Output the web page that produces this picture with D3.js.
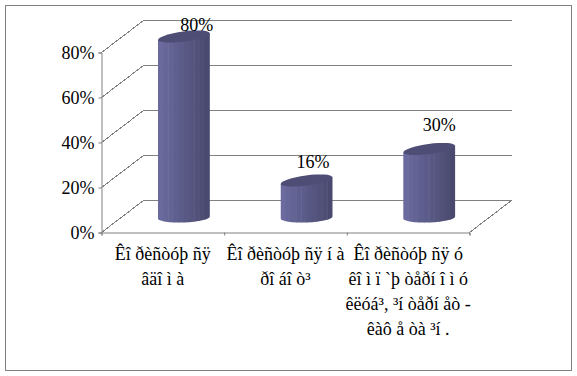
<!DOCTYPE html>
<html>
<head>
<meta charset="utf-8">
<script src="https://cdn.jsdelivr.net/npm/d3@7"></script>
<style>
  html, body { margin: 0; padding: 0; background: #fff; }
  text { font-family: "Liberation Serif", serif; fill: #000; }
</style>
</head>
<body>
<div id="chart"></div>
<script>
// labels are kept exactly as they show in the picture (broken encoding included)
const categories = [
    ["Êî ðèñòóþ ñÿ", "âäî ì à"],
    ["Êî ðèñòóþ ñÿ í à", "ðî áî ò³"],
    ["Êî ðèñòóþ ñÿ ó", "êî ì ï `þ òåðí î ì ó", "êëóá³, ³í òåðí åò -", "êàô å òà ³í ."]
];
const values = [0.8, 0.16, 0.3];
const valueTicks = [0, 0.2, 0.4, 0.6, 0.8];

const width = 577;
const height = 376;

// 3d box of the chart: front floor edge + offset to the back wall
const plotLeft = 101.5, plotRight = 469.5, plotBottom = 232.5, plotTop = 52.5;
const depthX = 42, depthY = -32;
const barWidth = 52;

// the value labels were dragged by hand in the original
const labelNudge = [[13, -6], [6.5, -13], [10, -18]];

const svg = d3.select("#chart")
    .append("svg")
    .attr("width", width)
    .attr("height", height)
    .style("display", "block");

svg.append("rect")
    .attr("x", 5.5).attr("y", 5.5)
    .attr("width", 566).attr("height", 365)
    .attr("fill", "#fff")
    .attr("stroke", "#808080");

const y = d3.scaleLinear().domain([0, 0.8]).range([plotBottom, plotTop]);
const x = d3.scaleBand().domain(d3.range(categories.length)).range([plotLeft, plotRight]);
const xEdges = d3.scaleLinear().domain([0, categories.length]).range([plotLeft, plotRight]);
const pct = d3.format(".0%");

// Gridlines on the side and back walls
const grid = svg.append("g")
    .attr("stroke", "#808080")
    .attr("fill", "none")
    .attr("shape-rendering", "crispEdges");
valueTicks.forEach(t => {
    grid.append("path")
        .attr("d", `M${plotLeft},${y(t)}l${depthX},${depthY}L${plotRight + depthX},${y(t) + depthY}`);
});
grid.append("line")
    .attr("x1", plotRight).attr("y1", plotBottom)
    .attr("x2", plotRight + depthX).attr("y2", plotBottom + depthY);

// Axes
const yAxis = svg.append("g")
    .attr("transform", `translate(${plotLeft},0)`)
    .call(d3.axisLeft(y).tickValues(valueTicks).tickFormat(pct).tickSize(3).tickPadding(4));
const xAxis = svg.append("g")
    .attr("transform", `translate(0,${plotBottom})`)
    .call(d3.axisBottom(xEdges).ticks(categories.length).tickFormat("").tickSize(3));
svg.selectAll(".domain, .tick line").attr("stroke", "#808080");
yAxis.selectAll("text")
    .style("font-family", '"Liberation Serif", serif')
    .style("font-size", "18px");

// Category labels
svg.append("g").selectAll("text")
    .data(categories)
    .enter()
    .append("text")
    .attr("text-anchor", "middle")
    .style("font-size", "18px")
    .each(function(lines, i) {
        d3.select(this).selectAll("tspan")
            .data(lines)
            .enter()
            .append("tspan")
            .attr("x", x(i) + x.bandwidth() / 2)
            .attr("y", (d, j) => 259.5 + j * 25.2)
            .text(d => d);
    });

// Cylinders, shaded with vertical strips like the original
const strips = 10;
const shade = d3.interpolateRgb("#6a6a9e", "#4a4a70");
const defs = svg.append("defs");
const bars = svg.append("g");

values.forEach((v, i) => {
    const cx = x(i) + x.bandwidth() / 2 + depthX / 2;
    const x0 = cx - barWidth / 2, x1 = cx + barWidth / 2;
    const base = y(0) + depthY / 2 + 1;
    const topY = y(v) + depthY / 2;
    const r = barWidth / 2;

    const body = `M${x0},${topY + 3.5}L${x1},${topY - 3.5}L${x1},${base - 1}` +
        `A${r},5 -2.2 0 1 ${x0},${base + 1}Z`;
    defs.append("clipPath").attr("id", "clip" + i).append("path").attr("d", body);

    bars.append("g")
        .attr("clip-path", `url(#clip${i})`)
        .selectAll("rect")
        .data(d3.range(strips))
        .enter()
        .append("rect")
        .attr("x", s => x0 + s * barWidth / strips)
        .attr("y", topY - 6)
        .attr("width", barWidth / strips + 0.5)
        .attr("height", base - topY + 16)
        .attr("fill", s => shade(s / (strips - 1)));

    bars.append("ellipse")
        .attr("rx", r).attr("ry", 5)
        .attr("transform", `translate(${cx},${topY}) rotate(-7.6)`)
        .attr("fill", "#4d4d75");

    svg.append("text")
        .attr("x", cx + labelNudge[i][0])
        .attr("y", topY + labelNudge[i][1])
        .attr("text-anchor", "middle")
        .style("font-size", "18px")
        .text(pct(v));
});
</script>
</body>
</html>
